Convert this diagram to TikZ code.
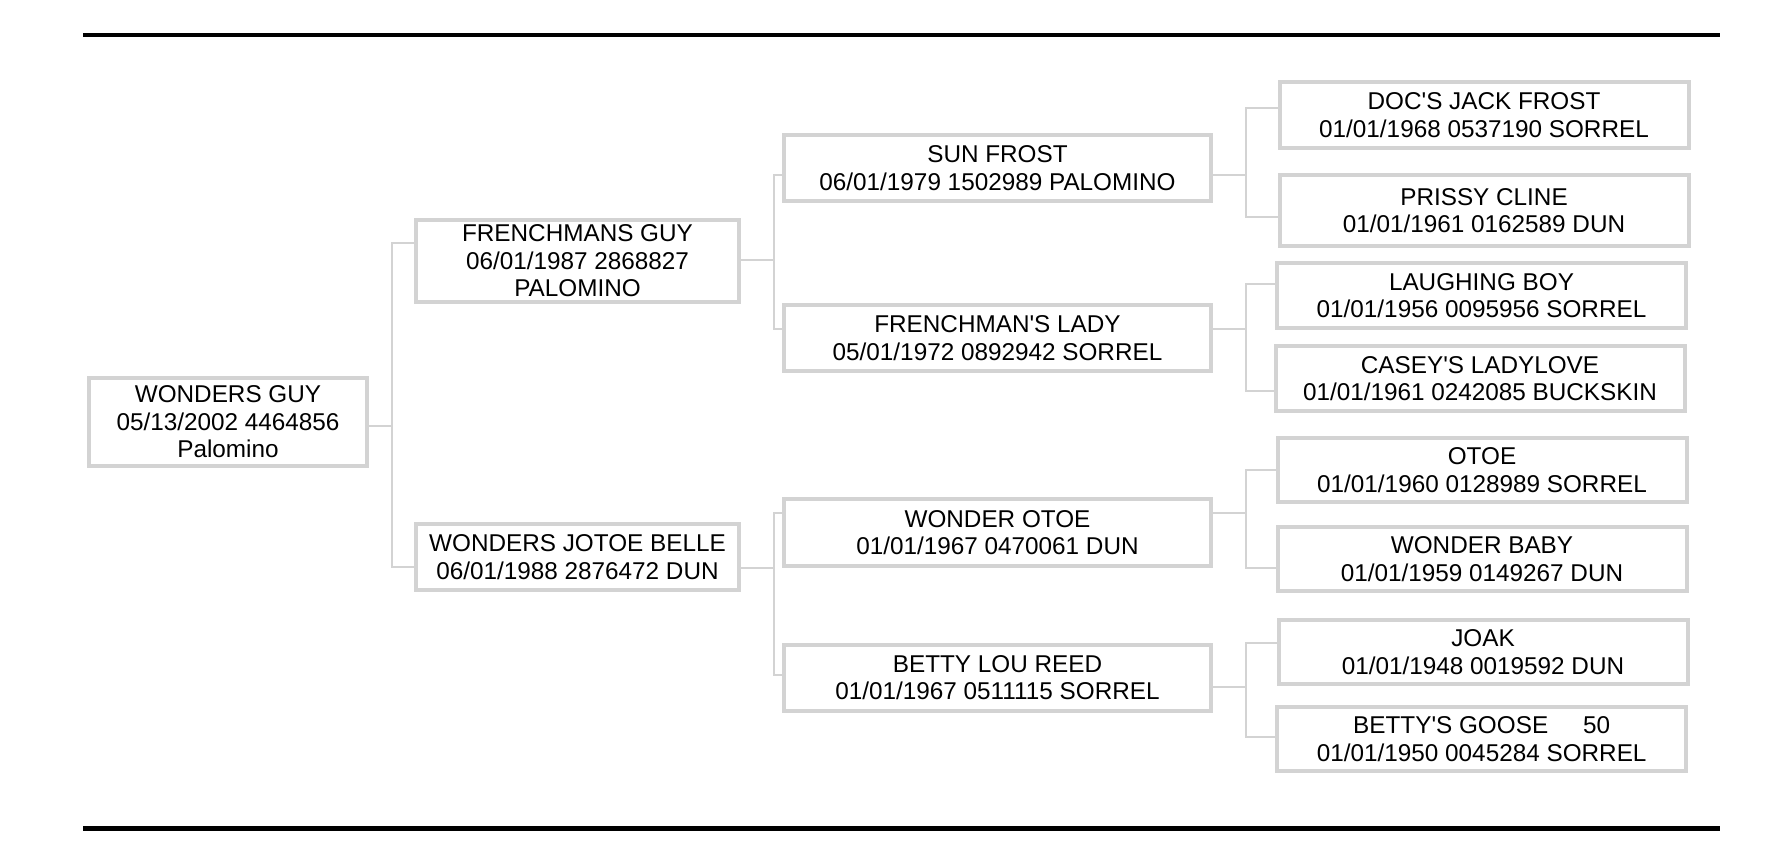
\documentclass[tikz,border=0pt]{standalone}
\usepackage{fontspec}
\setmainfont{Liberation Sans}
\definecolor{boxgray}{RGB}{211,211,211}
\tikzset{horse/.style={rectangle, draw=boxgray, line width=4pt, inner sep=0pt,
    align=center, font=\fontsize{24.3}{27.5}\selectfont}}
\tikzset{gen1/.style={horse, minimum width=278pt, minimum height=88pt}}
\tikzset{gen2/.style={horse, minimum width=323pt, minimum height=66pt}}
\tikzset{gen3/.style={horse, minimum width=427pt, minimum height=66pt}}
\tikzset{gen4/.style={horse, minimum width=409pt, minimum height=65pt}}
\tikzset{link/.style={draw=boxgray, line width=2pt}}
\tikzset{rule/.style={draw=black, line width=4.6pt}}
\newcommand{\qs}{\textquotesingle}

\begin{document}
\begin{tikzpicture}[x=1pt,y=-1pt]
    \useasboundingbox (0,0) rectangle (1766,860);
    %rules
    \draw[rule] (83,35) -- (1720,35);
    \draw[rule] (83,828.5) -- (1720,828.5);
    %horse
    \node[gen1] (wguy) at (228,422) {WONDERS GUY\\05/13/2002 4464856\\Palomino};
    %parents
    \node[gen2, minimum height=82pt] (fguy) at (577.5,261) {FRENCHMANS GUY\\06/01/1987 2868827\\PALOMINO};
    \node[gen2] (jbelle) at (577.5,557) {WONDERS JOTOE BELLE\\06/01/1988 2876472 DUN};
    %grandparents
    \node[gen3] (sunfrost) at (997.5,168) {SUN FROST\\06/01/1979 1502989 PALOMINO};
    \node[gen3] (flady) at (997.5,338) {FRENCHMAN\qs S LADY\\05/01/1972 0892942 SORREL};
    \node[gen3, minimum height=67pt] (wotoe) at (997.5,532.5) {WONDER OTOE\\01/01/1967 0470061 DUN};
    \node[gen3] (blreed) at (997.5,677.5) {BETTY LOU REED\\01/01/1967 0511115 SORREL};
    %great grandparents
    \node[gen4, minimum height=66pt] (docjack) at (1484,115) {DOC\qs S JACK FROST\\01/01/1968 0537190 SORREL};
    \node[gen4, minimum height=71pt] (prissy) at (1484,210.5) {PRISSY CLINE\\01/01/1961 0162589 DUN};
    \node[gen4] (laughing) at (1481.5,295.5) {LAUGHING BOY\\01/01/1956 0095956 SORREL};
    \node[gen4] (casey) at (1480,378.5) {CASEY\qs S LADYLOVE\\01/01/1961 0242085 BUCKSKIN};
    \node[gen4, minimum height=64pt] (otoe) at (1482,470) {OTOE\\01/01/1960 0128989 SORREL};
    \node[gen4, minimum height=64pt] (wbaby) at (1482,559) {WONDER BABY\\01/01/1959 0149267 DUN};
    \node[gen4, minimum height=64pt] (joak) at (1483,652) {JOAK\\01/01/1948 0019592 DUN};
    \node[gen4, minimum height=64pt] (goose) at (1481.7,739) {BETTY\qs S GOOSE\hspace{35pt}50\\01/01/1950 0045284 SORREL};
    %lines to parents
    \draw[link] ([yshift=-4pt]wguy.east) -- ++(23,0) |- ([yshift=18pt]fguy.west);
    \draw[link] ([yshift=-4pt]wguy.east) -- ++(23,0) |- ([yshift=-10pt]jbelle.west);
    %lines to grandparents
    \draw[link] ([yshift=1pt]fguy.east) -- ++(33,0) |- ([yshift=-7pt]sunfrost.west);
    \draw[link] ([yshift=1pt]fguy.east) -- ++(33,0) |- ([yshift=9pt]flady.west);
    \draw[link] ([yshift=-10.5pt]jbelle.east) -- ++(33,0) |- ([yshift=19.5pt]wotoe.west);
    \draw[link] ([yshift=-10.5pt]jbelle.east) -- ++(33,0) |- ([yshift=2.5pt]blreed.west);
    %lines to great grandparents
    \draw[link] ([yshift=-7pt]sunfrost.east) -- ++(32.5,0) |- ([yshift=7pt]docjack.west);
    \draw[link] ([yshift=-7pt]sunfrost.east) -- ++(32.5,0) |- ([yshift=-6pt]prissy.west);
    \draw[link] ([yshift=9pt]flady.east) -- ++(32.5,0) |- ([yshift=12pt]laughing.west);
    \draw[link] ([yshift=9pt]flady.east) -- ++(32.5,0) |- ([yshift=-12pt]casey.west);
    \draw[link] ([yshift=19.5pt]wotoe.east) -- ++(32.5,0) |- (otoe.west);
    \draw[link] ([yshift=19.5pt]wotoe.east) -- ++(32.5,0) |- ([yshift=-9pt]wbaby.west);
    \draw[link] ([yshift=-9.5pt]blreed.east) -- ++(32.5,0) |- ([yshift=9pt]joak.west);
    \draw[link] ([yshift=-9.5pt]blreed.east) -- ++(32.5,0) |- ([yshift=2pt]goose.west);
\end{tikzpicture}
\end{document}
